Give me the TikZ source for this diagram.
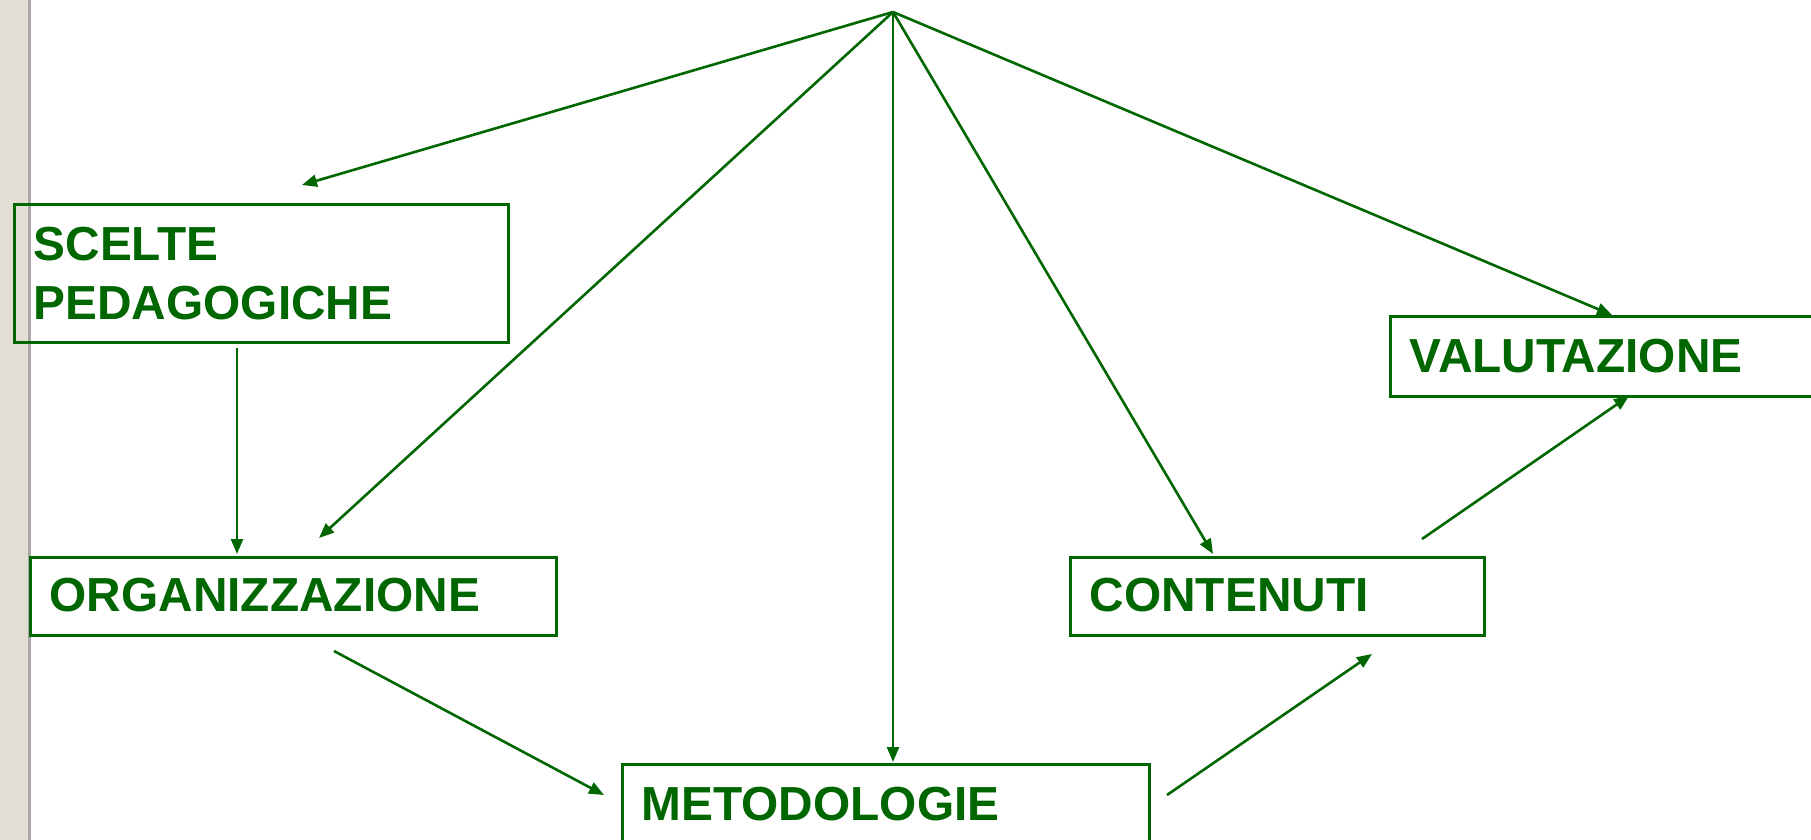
\documentclass[tikz,border=0pt]{standalone}
\usepackage{fontspec}
\setmainfont{Liberation Sans}
\usetikzlibrary{arrows.meta}
\definecolor{dkgreen}{RGB}{0,102,0}
\definecolor{barbeige}{RGB}{227,222,212}
\definecolor{bargray}{RGB}{168,168,168}
\begin{document}
\begin{tikzpicture}[x=0.5pt,y=-0.5pt,
  box/.style={draw=dkgreen, line width=1.3pt, anchor=north west, inner xsep=9.7pt, inner ysep=0pt,
    align=left, text=dkgreen, font=\fontsize{23.9pt}{29.5pt}\selectfont\bfseries},
  conn/.style={draw=dkgreen, line width=1.3pt, -{Triangle[length=7.5pt,width=6pt]}}]
\useasboundingbox (0,0) rectangle (1811,840);
\clip (0,0) rectangle (1811,840);
\fill[barbeige] (0,0) rectangle (28,840);
\fill[bargray] (28,0) rectangle (31,840);

\node[box, text width=227.6pt, text height=28.3pt, text depth=40.7pt] (sc) at (13,203) {SCELTE\\PEDAGOGICHE};
\node[box, text width=243.6pt, text height=27.3pt, text depth=11.7pt] (org) at (29,556) {ORGANIZZAZIONE};
\node[box, text width=187.6pt, text height=27.3pt, text depth=11.7pt] (cont) at (1069,556) {CONTENUTI};
\node[box, text width=241.6pt, text height=28.3pt, text depth=11.7pt] (val) at (1389,315) {VALUTAZIONE};
\node[box, text width=244.1pt, text height=28.1pt, text depth=50pt] (met) at (621,763) {METODOLOGIE};

\coordinate (apex) at (893,12);
\coordinate (scIn) at (302,185);
\coordinate (orgIn) at (319,538);
\coordinate (metIn) at (893,762);
\coordinate (contIn) at (1213,554);
\coordinate (valIn) at (1612,315);
\coordinate (scOut) at (237,348);
\coordinate (orgTop) at (237,554);
\coordinate (orgOut) at (334,651);
\coordinate (metL) at (604,795);
\coordinate (metOut) at (1167,795);
\coordinate (contBot) at (1372,654);
\coordinate (contOut) at (1422,539);
\coordinate (valBot) at (1629,396);

\draw[conn] (apex) -- (scIn);
\draw[conn] (apex) -- (orgIn);
\draw[conn] (apex) -- (metIn);
\draw[conn] (apex) -- (contIn);
\draw[conn] (apex) -- (valIn);
\draw[conn] (scOut) -- (orgTop);
\draw[conn] (orgOut) -- (metL);
\draw[conn] (metOut) -- (contBot);
\draw[conn] (contOut) -- (valBot);
\end{tikzpicture}
\end{document}
